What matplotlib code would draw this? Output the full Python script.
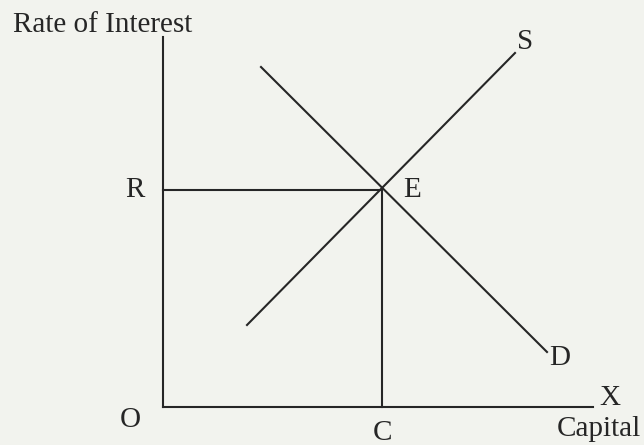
import matplotlib
matplotlib.use('Agg')
import matplotlib.pyplot as plt

# diagram coordinates, origin at O (units ~ pixels)
y_axis = ([0, 0], [0, 370])
x_axis = ([0, 430], [0, 0])
E = (219, 217)
supply_x = [84, 352]
supply_y = [82, 354]
demand_x = [98, 384]
demand_y = [340, 55]

ink = '#262626'
bg = '#f2f3ee'

fig = plt.figure(figsize=(6.44, 4.45), dpi=100, facecolor=bg)
ax = fig.add_axes([0, 0, 1, 1])
ax.set_facecolor(bg)
ax.set_xlim(-163, 481)
ax.set_ylim(-38, 407)
ax.axis('off')

plt.rcParams['font.family'] = ['Liberation Serif', 'DejaVu Serif']
fs = 21

lw = 1.5
ax.plot(*y_axis, color=ink, lw=lw)
ax.plot(*x_axis, color=ink, lw=lw)
ax.plot(supply_x, supply_y, color=ink, lw=lw)
ax.plot(demand_x, demand_y, color=ink, lw=lw)
ax.plot([0, E[0]], [E[1], E[1]], color=ink, lw=lw)
ax.plot([E[0], E[0]], [0, E[1]], color=ink, lw=lw)

ax.text(-150, 375, 'Rate of Interest', fontsize=fs, color=ink, ha='left', va='baseline')
ax.text(-28, E[1], 'R', fontsize=fs, color=ink, ha='center', va='center')
ax.text(249, E[1], 'E', fontsize=fs, color=ink, ha='center', va='center')
ax.text(362, 365, 'S', fontsize=fs, color=ink, ha='center', va='center')
ax.text(397, 49, 'D', fontsize=fs, color=ink, ha='center', va='center')
ax.text(447, 9, 'X', fontsize=fs, color=ink, ha='center', va='center')
ax.text(-33, -13, 'O', fontsize=fs, color=ink, ha='center', va='center')
ax.text(E[0] + 1, -26, 'C', fontsize=fs, color=ink, ha='center', va='center')
ax.text(478, -22, 'Capital', fontsize=fs, color=ink, ha='right', va='center')

fig.savefig('out.png', dpi=100, facecolor=bg)
